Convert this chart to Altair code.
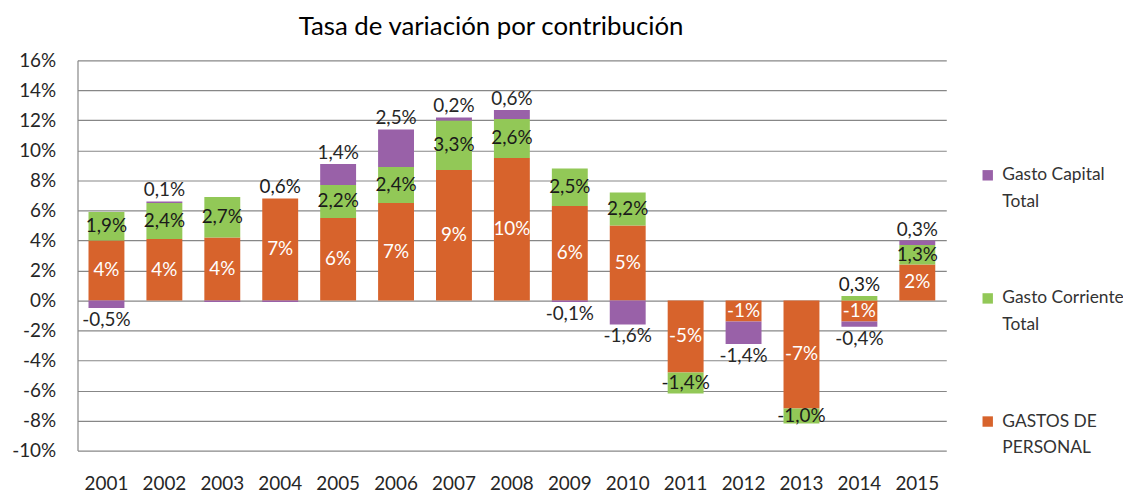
import altair as alt
import pandas as pd

years = [str(y) for y in range(2001, 2016)]

series_names = ["GASTOS DE PERSONAL", "Gasto Corriente Total", "Gasto Capital Total"]
legend_order = ["Gasto Capital Total", "Gasto Corriente Total", "GASTOS DE PERSONAL"]
legend_colors = ["#9961A8", "#92C857", "#D7632C"]

personal = [4.0, 4.1, 4.2, 6.8, 5.5, 6.5, 8.7, 9.5, 6.3, 5.0, -4.8, -1.4, -7.2, -1.4, 2.4]
corriente = [1.9, 2.4, 2.7, 0.0, 2.2, 2.4, 3.3, 2.6, 2.5, 2.2, -1.4, 0.0, -1.0, 0.3, 1.3]
capital = [-0.5, 0.1, -0.1, -0.1, 1.4, 2.5, 0.2, 0.6, -0.1, -1.6, 0.0, -1.5, 0.0, -0.35, 0.3]

personal_labels = ["4%", "4%", "4%", "7%", "6%", "7%", "9%", "10%", "6%", "5%",
                   "-5%", "-1%", "-7%", "-1%", "2%"]
corriente_labels = ["1,9%", "2,4%", "2,7%", "0,6%", "2,2%", "2,4%", "3,3%", "2,6%", "2,5%",
                    "2,2%", "-1,4%", "", "-1,0%", "0,3%", "1,3%"]
capital_labels = ["-0,5%", "0,1%", "", "", "1,4%", "2,5%", "0,2%", "0,6%", "-0,1%",
                  "-1,6%", "", "-1,4%", "", "-0,4%", "0,3%"]

y_ticks = list(range(-10, 17, 2))

label_colors = {"GASTOS DE PERSONAL": "#FFFFFF",
                "Gasto Corriente Total": "#1A1A1A",
                "Gasto Capital Total": "#262626"}

rows = []
for i, yr in enumerate(years):
    pos_acc = 0.0
    neg_acc = 0.0
    for k, (name, vals, labs) in enumerate(zip(series_names,
                                               [personal, corriente, capital],
                                               [personal_labels, corriente_labels, capital_labels])):
        v = vals[i]
        if v >= 0:
            y0, y1 = pos_acc, pos_acc + v
            pos_acc = y1
        else:
            y0, y1 = neg_acc, neg_acc + v
            neg_acc = y1
        if k == 0:
            place = "center"
        elif k == 1:
            place = "center" if abs(v) >= 0.5 else "above"
        else:
            place = "above" if v > 0 else "below"
        ly = (y0 + y1) / 2 if place == "center" else y1
        rows.append(dict(year=yr, serie=name, value=v, y0=y0, y1=y1,
                         label=labs[i], place=place, ly=ly, tcolor=label_colors[name]))

df = pd.DataFrame(rows)

FONT = "Lato"

x_scale = alt.Scale(paddingInner=0.38, paddingOuter=0.19)
y_scale = alt.Scale(domain=[-10, 16], nice=False, zero=False)

x_axis = alt.Axis(title=None, labelAngle=0, domain=False, ticks=False,
                  labelPadding=24, labelFont=FONT, labelFontSize=19,
                  labelColor="#262626", grid=False)
y_axis = alt.Axis(title=None, values=y_ticks, labelExpr="datum.value + '%'",
                  labelOverlap=False,
                  grid=True, gridColor="#878787", gridWidth=1.2,
                  domain=True, domainColor="#878787", domainWidth=1.2,
                  ticks=False, labelPadding=22, labelFont=FONT,
                  labelFontSize=19, labelColor="#262626")

bars = alt.Chart(df).mark_bar(strokeWidth=0).encode(
    x=alt.X("year:N", sort=years, scale=x_scale, axis=x_axis),
    y=alt.Y("y0:Q", scale=y_scale, axis=y_axis),
    y2="y1:Q",
    color=alt.Color("serie:N",
                    scale=alt.Scale(domain=legend_order, range=legend_colors),
                    legend=alt.Legend(
                        title=None, orient="none", legendX=908, legendY=107,
                        symbolType="square", symbolSize=110, symbolStrokeWidth=0,
                        labelFont=FONT, labelFontSize=17.5, labelColor="#333333",
                        labelLimit=300, rowPadding=78, labelOffset=6,
                        labelExpr=("datum.label == 'Gasto Capital Total' ? ['Gasto Capital', 'Total'] : "
                                   "datum.label == 'Gasto Corriente Total' ? ['Gasto Corriente', 'Total'] : "
                                   "['GASTOS DE', 'PERSONAL']"))),
)

def text_layer(place, baseline, dy):
    return alt.Chart(df).transform_filter(
        f"datum.place == '{place}' && datum.label != ''"
    ).mark_text(baseline=baseline, dy=dy, font=FONT, fontSize=19).encode(
        x=alt.X("year:N", sort=years, scale=x_scale, axis=x_axis),
        y=alt.Y("ly:Q", scale=y_scale, axis=y_axis),
        text="label:N",
        color=alt.Color("tcolor:N", scale=None),
    )

chart = alt.layer(
    bars,
    text_layer("center", "middle", 0),
    text_layer("above", "bottom", -1),
    text_layer("below", "top", 3),
).properties(
    width=875, height=393,
    title=alt.TitleParams("Tasa de variación por contribución", font=FONT, fontSize=26,
                          fontWeight="normal", color="#000000", anchor="middle",
                          dx=-21, offset=12),
    autosize=alt.AutoSizeParams(type="none"),
    padding={"left": 70, "top": 51, "right": 178, "bottom": 45},
).configure(
    background="white",
    style={"guide-label": {"lineHeight": 27}},
    view=alt.ViewConfig(stroke=None),
)

chart.save("out.html", embed_options={"renderer": "svg", "actions": False})
